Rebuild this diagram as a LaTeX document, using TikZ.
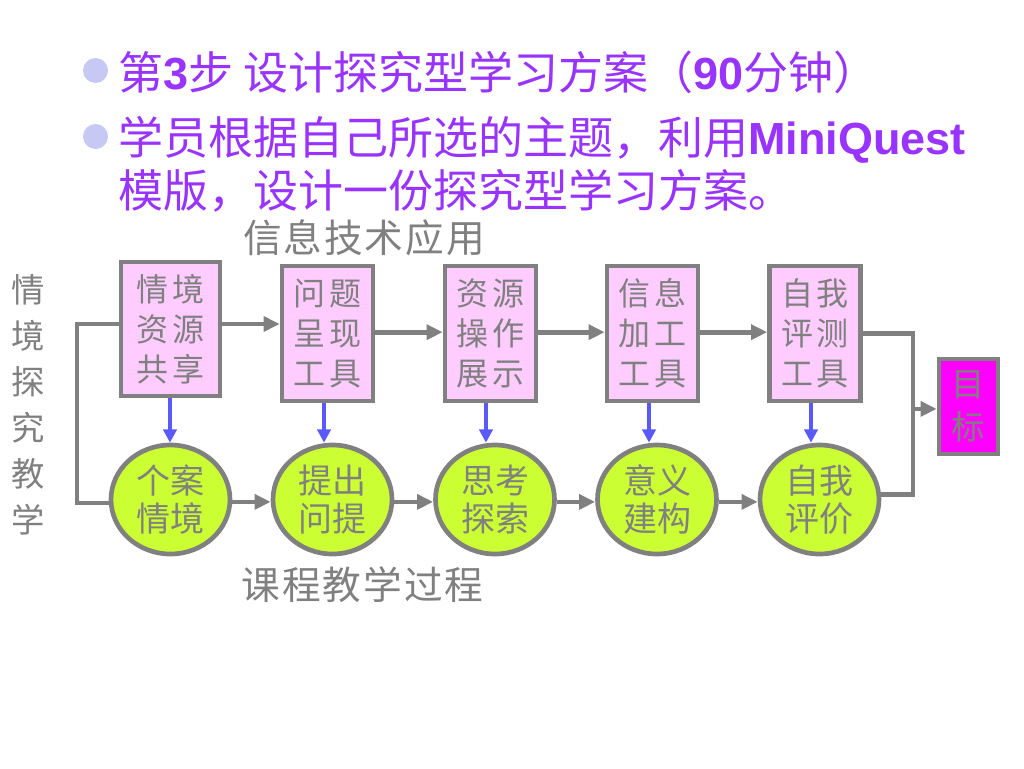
\documentclass[tikz,border=0pt]{standalone}
\usepackage{fontspec}
\setmainfont{Noto Sans CJK SC}
\newfontfamily\cjk{Noto Sans CJK SC}
\newfontfamily\lat{Liberation Sans}
\usetikzlibrary{arrows.meta,shapes.geometric,calc}
\definecolor{ggray}{RGB}{128,128,128}
\definecolor{boxpink}{RGB}{255,204,255}
\definecolor{lgreen}{RGB}{204,255,51}
\definecolor{tmag}{RGB}{255,0,255}
\definecolor{bblue}{RGB}{90,90,250}
\definecolor{purp}{RGB}{153,51,255}
\definecolor{bul}{RGB}{200,200,245}
\tikzset{
  gline/.style={draw=ggray, line width=3.6pt},
  garrow/.style={gline, -{Triangle[length=12pt,width=11pt]}},
  barrow/.style={draw=bblue, line width=3pt, -{Triangle[length=10pt,width=10pt]}},
  tool/.style={rectangle, draw=ggray, line width=3.5pt, fill=boxpink, text=ggray,
    align=center, inner sep=0pt, font=\cjk\fontsize{24}{30}\selectfont},
  proc/.style={ellipse, draw=ggray, line width=3.5pt, fill=lgreen, text=ggray,
    align=center, inner sep=0pt, minimum width={119*0.75pt}, minimum height={109*0.75pt},
    font=\cjk\fontsize{25.5}{28.5}\selectfont},
  titletext/.style={anchor=base west, inner sep=0pt, text=purp, font=\cjk\fontsize{33.75}{40}\selectfont},
  graylabel/.style={inner sep=0pt, text=ggray, font=\cjk\fontsize{29}{34}\selectfont},
  bullet/.style={circle, fill=bul, minimum size={25*0.75pt}, inner sep=0pt}
}
\newcommand{\gp}{\hspace{2.5pt}}
\newcommand{\lsp}{\hspace{1.5pt}}
\begin{document}
\begin{tikzpicture}[x=0.75pt,y=-0.75pt]
\useasboundingbox[fill=white] (0,0) rectangle (1024,768);

% title
\node[bullet] (bu1) at (95.5,70.5) {};
\node[bullet] (bu2) at (95.5,136.5) {};
\node[titletext] (l1) at (118,89) {第{\lat\bfseries 3}步 设计探究型学习方案（{\lat\bfseries 90}分钟）};
\node[titletext] (l2) at (118,154) {学员根据自己所选的主题，利用{\lat\bfseries MiniQuest}};
\node[titletext] (l3) at (118,207) {模版，设计一份探究型学习方案。};

% labels
\node[graylabel] (lab1) at (364,238) {信\lsp 息\lsp 技\lsp 术\lsp 应\lsp 用};
\node[graylabel] (lab2) at (362.5,585) {课\lsp 程\lsp 教\lsp 学\lsp 过\lsp 程};
\node[inner sep=0pt, text=ggray, align=center, font=\cjk\fontsize{25}{34.5}\selectfont] (side) at (28,405) {情\\境\\探\\究\\教\\学};

% tool boxes
\node[tool, minimum width={99*0.75pt}, minimum height={134*0.75pt}] (b1) at (170.5,329) {情\gp 境\\资\gp 源\\共\gp 享};
\node[tool, minimum width={91*0.75pt}, minimum height={135*0.75pt}] (b2) at (327.5,333.5) {问\gp 题\\呈\gp 现\\工\gp 具};
\node[tool, minimum width={91*0.75pt}, minimum height={135*0.75pt}] (b3) at (490.5,333.5) {资\gp 源\\操\gp 作\\展\gp 示};
\node[tool, minimum width={91*0.75pt}, minimum height={135*0.75pt}] (b4) at (652.5,333.5) {信\gp 息\\加\gp 工\\工\gp 具};
\node[tool, minimum width={91*0.75pt}, minimum height={135*0.75pt}] (b5) at (815,333.5) {自\gp 我\\评\gp 测\\工\gp 具};

% process circles
\node[proc] (c1) at (170.5,499.5) {个案\\情境};
\node[proc] (c2) at (332.5,499.5) {提出\\问提};
\node[proc] (c3) at (495,499.5) {思考\\探索};
\node[proc] (c4) at (657,499.5) {意义\\建构};
\node[proc] (c5) at (819.5,499.5) {自我\\评价};

% target
\node[rectangle, draw=ggray, line width=3.5pt, fill=tmag, text=ggray, align=center, inner sep=0pt,
  minimum width={59*0.75pt}, minimum height={95*0.75pt}, font=\cjk\fontsize{25}{32}\selectfont] (t) at (968.5,406.5) {目\\标};

% top arrows
\draw[garrow] ([yshift=3.75pt]b1.east) -- ([yshift=3.75pt]b1.east -| b2.west);
\draw[garrow] ([yshift=1pt]b2.east) -- ([yshift=1pt]b3.west);
\draw[garrow] ([yshift=1pt]b3.east) -- ([yshift=1pt]b4.west);
\draw[garrow] ([yshift=1pt]b4.east) -- ([yshift=1pt]b5.west);

% bottom arrows
\draw[garrow] ([yshift=-1.8pt]c1.east) -- ([yshift=-1.8pt]c2.west);
\draw[garrow] ([yshift=-1.8pt]c2.east) -- ([yshift=-1.8pt]c3.west);
\draw[garrow] ([yshift=-1.8pt]c3.east) -- ([yshift=-1.8pt]c4.west);
\draw[garrow] ([yshift=-1.8pt]c4.east) -- ([yshift=-1.8pt]c5.west);

% blue arrows
\draw[barrow] ([xshift=-0.4pt]b1.south) -- ([xshift=-0.4pt]b1.south |- c1.north);
\draw[barrow] ([xshift=-2.6pt]b2.south) -- ([xshift=-2.6pt]b2.south |- c2.north);
\draw[barrow] ([xshift=-3.4pt]b3.south) -- ([xshift=-3.4pt]b3.south |- c3.north);
\draw[barrow] ([xshift=-2.6pt]b4.south) -- ([xshift=-2.6pt]b4.south |- c4.north);
\draw[barrow] ([xshift=-3pt]b5.south) -- ([xshift=-3pt]b5.south |- c5.north);

% left bracket
\coordinate (lb) at (77,420);
\draw[gline] ([yshift=3.75pt]b1.west) -| (lb) |- ([yshift=-2.6pt]c1.west);

% right bracket
\coordinate (rb) at (913,410);
\draw[gline] (b5.east) -| (rb) |- ([yshift=4pt]c5.east);
\draw[garrow] ([yshift=-1.8pt]rb |- t.west) -- ([yshift=-1.8pt]t.west);
\end{tikzpicture}
\end{document}
